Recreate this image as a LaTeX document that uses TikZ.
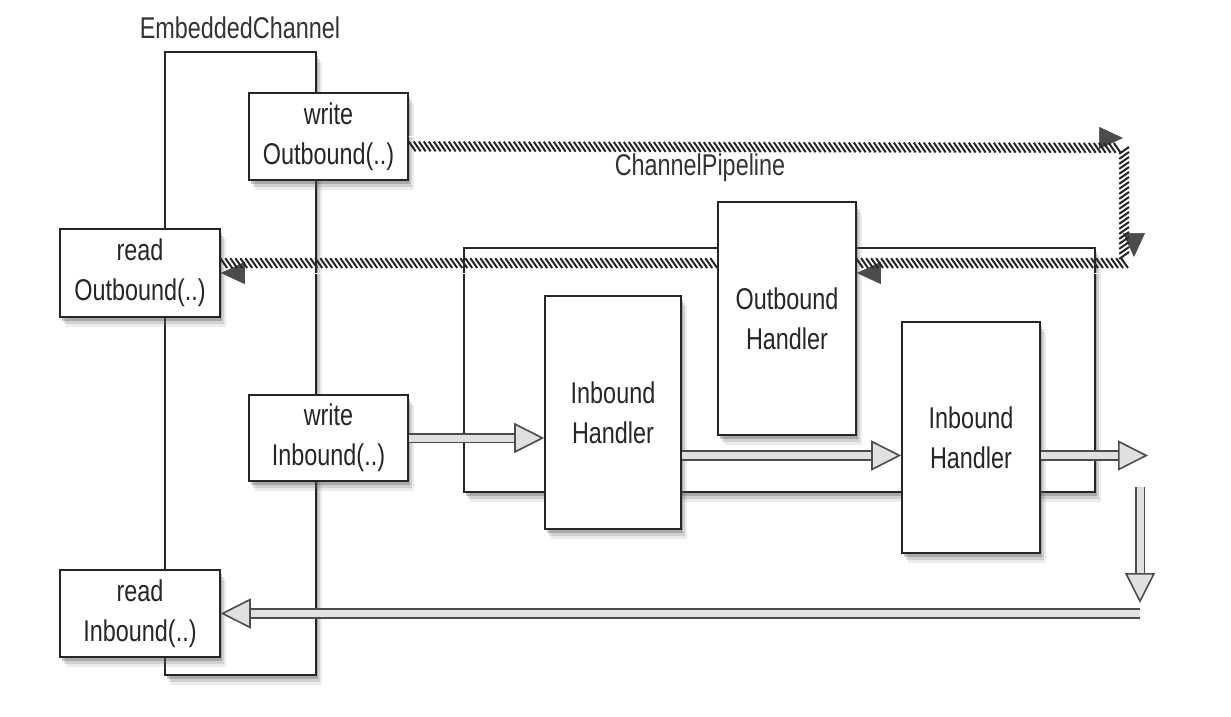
\documentclass[tikz,border=0pt]{standalone}
\usepackage{fontspec}
\setmainfont{Liberation Sans}[FakeStretch=0.78]
\usetikzlibrary{arrows.meta}
\usetikzlibrary{shadows}
\usetikzlibrary{decorations.pathreplacing}

\begin{document}
\begin{tikzpicture}[x=0.5pt,y=-0.5pt,
	box/.style={draw=black!85,line width=0.8pt,fill=white,align=center,inner sep=0pt,
		font=\fontsize{15}{20}\selectfont,text=black!85,
		drop shadow={fill=black!60,opacity=0.12,shadow xshift=3pt,shadow yshift=-5pt},
		drop shadow={fill=black!60,opacity=0.2,shadow xshift=2pt,shadow yshift=-3.5pt},
		drop shadow={fill=black!70,opacity=0.3,shadow xshift=1pt,shadow yshift=-2pt}},
	title/.style={font=\fontsize{15}{20}\selectfont,text=black!80},
	hatched/.style={draw=white,line width=0.3pt,
		-{Triangle[length=12pt,width=11pt,color=black!70]},
		decoration={border,segment length=2.5pt,amplitude=6pt,angle=-55,raise=-2.5pt},
		postaction={decorate,-,draw=black!85,line width=1pt}},
	hollow/.style={draw=black!70,line width=0.8pt,double=black!12,double distance=3.5pt,
		-{Triangle[length=15pt,width=15pt,fill=black!12,color=black!70,line width=0.8pt]}}]

	\useasboundingbox (0,0) rectangle (1231,717);

	% EmbeddedChannel
	\node[title] (embLabel) at (240,28) {EmbeddedChannel};
	\node[box,minimum width=75.5pt,minimum height=311.5pt] (emb) at (240.5,363.5) {};
	\node[box,minimum width=79.5pt,minimum height=43.5pt] (wOut) at (328.5,136.5) {write\\Outbound(..)};
	\node[box,minimum width=80pt,minimum height=44pt] (rOut) at (140,273) {read\\Outbound(..)};
	\node[box,minimum width=79.5pt,minimum height=43pt] (wIn) at (328.5,438) {write\\Inbound(..)};
	\node[box,minimum width=80pt,minimum height=43.5pt] (rIn) at (140,613.5) {read\\Inbound(..)};

	% ChannelPipeline
	\node[title] (pipeLabel) at (700,168) {ChannelPipeline};
	\node[box,minimum width=315.5pt,minimum height=122pt] (pipe) at (779.5,370) {};
	\node[box,minimum width=69pt,minimum height=116.5pt] (outH) at (787,318.5) {Outbound\\Handler};
	\node[box,minimum width=68pt,minimum height=116.5pt] (inH1) at (613,412.5) {Inbound\\Handler};
	\node[box,minimum width=69pt,minimum height=115.5pt] (inH2) at (971,437.5) {Inbound\\Handler};

	% outbound path
	\coordinate (c1) at (1123,138);
	\coordinate (c2) at (1134,147);
	\coordinate (c3) at (1134,257);
	\coordinate (c4) at (1128,273);
	\draw[hatched] (wOut.east) -- (c1);
	\draw[hatched] (c2) -- (c3);
	\draw[hatched] (c4) -- (outH.east |- c4);
	\draw[hatched] (outH.west |- c4) -- (rOut.east);

	% inbound path
	\coordinate (o1) at (1148,455.5);
	\coordinate (o2) at (1140,487);
	\coordinate (o3) at (1140,603);
	\coordinate (o4) at (1140,613.5);
	\draw[hollow] (wIn.east) -- (inH1.west |- wIn.east);
	\draw[hollow] ([yshift=-21.5pt]inH1.east) -- ([yshift=-9pt]inH2.west);
	\draw[hollow] ([yshift=-9pt]inH2.east) -- (o1);
	\draw[hollow] (o2) -- (o3);
	\draw[hollow] (o4) -- (rIn.east);

\end{tikzpicture}
\end{document}
